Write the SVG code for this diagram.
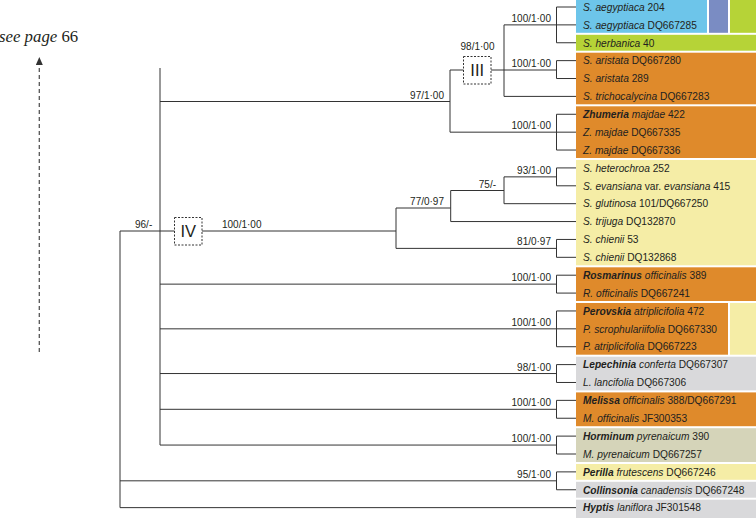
<svg xmlns="http://www.w3.org/2000/svg" width="756" height="518" viewBox="0 0 756 518">
<style>
.t{font-family:"Liberation Sans",Arial,sans-serif;font-size:10.2px;fill:#231f20}
.i{font-style:italic}
.b{font-weight:bold;font-style:italic}
.bl{font-family:"Liberation Sans",Arial,sans-serif;font-size:10px;fill:#231f20}
.ln{stroke:#333;stroke-width:1;fill:none}
.box{fill:#fff;stroke:#333;stroke-width:1;stroke-dasharray:2,1.5}
.rn{font-family:"Liberation Sans",Arial,sans-serif;font-size:16.5px;fill:#231f20;text-anchor:middle}
.blue{fill:#6dc5ea}.pur{fill:#7a8cc3}.grn{fill:#b6d337}.org{fill:#df8a2b}.yel{fill:#f5eda6}.gry{fill:#d9d9db}.kha{fill:#d5d4b9}
</style>
<defs>
<marker id="ah" viewBox="0 0 8 7" refX="7" refY="3.5" markerWidth="8" markerHeight="7" markerUnits="userSpaceOnUse" orient="auto">
<path d="M0,0 L8,3.5 L0,7 Z" fill="#333"/>
</marker>
</defs>

<g id="bands">
<rect class="blue" x="576" y="-2" width="131" height="34.8"/>
<rect class="pur" x="709" y="-2" width="19" height="34.8"/>
<rect class="grn" x="730" y="-2" width="26" height="34.8"/>
<rect class="grn" x="576" y="34.8" width="180" height="15.9"/>
<rect class="org" x="576" y="52.7" width="180" height="51.6"/>
<rect class="org" x="576" y="106.3" width="180" height="51.7"/>
<rect class="yel" x="576" y="160" width="180" height="105.3"/>
<rect class="org" x="576" y="267.3" width="180" height="33.7"/>
<rect class="org" x="576" y="303" width="152" height="51.7"/>
<rect class="yel" x="730" y="303" width="26" height="51.7"/>
<rect class="gry" x="576" y="356.7" width="180" height="33.7"/>
<rect class="org" x="576" y="392.4" width="180" height="33.8"/>
<rect class="kha" x="576" y="428.2" width="180" height="33.8"/>
<rect class="yel" x="576" y="464" width="180" height="15.8"/>
<rect class="gry" x="576" y="481.8" width="180" height="15.9"/>
<rect class="gry" x="576" y="499.7" width="180" height="18.3"/>
</g>

<g id="connectors">
<path class="ln" d="M120,231 V507.64 M120,231 H396"/>
<path class="ln" d="M160,68 V445.06"/>
<path class="ln" d="M160,101.5 H450 M450,70 V132.16 M450,70 H556.5 M556.5,60.64 V78.52 M556.5,60.64 H576 M556.5,78.52 H576"/>
<path class="ln" d="M504,24.88 V96.4 M504,24.88 H576 M556.5,7 V42.76 M556.5,7 H576 M556.5,42.76 H576 M504,96.4 H576"/>
<path class="ln" d="M450,132.16 H576 M556.5,114.28 V150.04 M556.5,114.28 H576 M556.5,150.04 H576"/>
<path class="ln" d="M396,208 V248.38 M396,208 H450.7 M450.7,190.5 V221.56 M450.7,190.5 H504 M504,176.86 V203.68 M504,176.86 H556.5 M556.5,167.92 V185.8 M556.5,167.92 H576 M556.5,185.8 H576 M504,203.68 H576 M450.7,221.56 H576"/>
<path class="ln" d="M396,248.38 H556.5 M556.5,239.44 V257.32 M556.5,239.44 H576 M556.5,257.32 H576"/>
<path class="ln" d="M160,284.14 H556.5 M556.5,275.2 V293.08 M556.5,275.2 H576 M556.5,293.08 H576"/>
<path class="ln" d="M160,328.84 H576 M556.5,310.96 V346.72 M556.5,310.96 H576 M556.5,346.72 H576"/>
<path class="ln" d="M160,373.54 H556.5 M556.5,364.6 V382.48 M556.5,364.6 H576 M556.5,382.48 H576"/>
<path class="ln" d="M160,409.3 H556.5 M556.5,400.36 V418.24 M556.5,400.36 H576 M556.5,418.24 H576"/>
<path class="ln" d="M160,445.06 H556.5 M556.5,436.12 V454 M556.5,436.12 H576 M556.5,454 H576"/>
<path class="ln" d="M120,480.82 H556.5 M556.5,471.88 V489.76 M556.5,471.88 H576 M556.5,489.76 H576"/>
<path class="ln" d="M120,507.64 H576"/>
<path d="M39.3,352 V58" stroke="#555" stroke-width="1.3" stroke-dasharray="4,3" fill="none" marker-end="url(#ah)"/>
</g>

<g id="branch-labels" class="bl">
<text x="551" y="21.9" text-anchor="end">100/1·00</text>
<text x="551" y="67" text-anchor="end">100/1·00</text>
<text x="477.5" y="50.3" text-anchor="middle">98/1·00</text>
<text x="444" y="98.5" text-anchor="end">97/1·00</text>
<text x="551" y="129.2" text-anchor="end">100/1·00</text>
<text x="551" y="173.9" text-anchor="end">93/1·00</text>
<text x="496" y="187.5" text-anchor="end">75/-</text>
<text x="444" y="205" text-anchor="end">77/0·97</text>
<text x="551" y="245.4" text-anchor="end">81/0·97</text>
<text x="135" y="228">96/-</text>
<text x="222" y="228">100/1·00</text>
<text x="551" y="281.1" text-anchor="end">100/1·00</text>
<text x="551" y="325.8" text-anchor="end">100/1·00</text>
<text x="551" y="370.5" text-anchor="end">98/1·00</text>
<text x="551" y="406.3" text-anchor="end">100/1·00</text>
<text x="551" y="442" text-anchor="end">100/1·00</text>
<text x="551" y="477.8" text-anchor="end">95/1·00</text>
</g>

<g id="clade-III">
<rect class="box" x="463.5" y="56.5" width="27.5" height="27.5"/>
<text class="rn" x="477.2" y="76.3">III</text>
</g>
<g id="clade-IV">
<rect class="box" x="174.5" y="217.5" width="27.5" height="27.5"/>
<text class="rn" x="188.2" y="237.3">IV</text>
</g>

<g id="see-page">
<text x="-1" y="42" font-family="'Liberation Serif','Times New Roman',serif" font-size="16.8" fill="#231f20"><tspan font-style="italic">see page</tspan> 66</text>
</g>

<g id="taxa" class="t">
<text id="t1" x="583" y="10.7"><tspan class="i">S. aegyptiaca</tspan> 204</text>
<text id="t2" x="583" y="28.6"><tspan class="i">S. aegyptiaca</tspan> DQ667285</text>
<text id="t3" x="583" y="46.5"><tspan class="i">S. herbanica</tspan> 40</text>
<text id="t4" x="583" y="64.3"><tspan class="i">S. aristata</tspan> DQ667280</text>
<text id="t5" x="583" y="82.2"><tspan class="i">S. aristata</tspan> 289</text>
<text id="t6" x="583" y="100.1"><tspan class="i">S. trichocalycina</tspan> DQ667283</text>
<text id="t7" x="583" y="118"><tspan class="b">Zhumeria</tspan> <tspan class="i">majdae</tspan> 422</text>
<text id="t8" x="583" y="135.9"><tspan class="i">Z. majdae</tspan> DQ667335</text>
<text id="t9" x="583" y="153.7"><tspan class="i">Z. majdae</tspan> DQ667336</text>
<text id="t10" x="583" y="171.6"><tspan class="i">S. heterochroa</tspan> 252</text>
<text id="t11" x="583" y="189.5"><tspan class="i">S. evansiana</tspan> var. <tspan class="i">evansiana</tspan> 415</text>
<text id="t12" x="583" y="207.4"><tspan class="i">S. glutinosa</tspan> 101/DQ667250</text>
<text id="t13" x="583" y="225.3"><tspan class="i">S. trijuga</tspan> DQ132870</text>
<text id="t14" x="583" y="243.1"><tspan class="i">S. chienii</tspan> 53</text>
<text id="t15" x="583" y="261"><tspan class="i">S. chienii</tspan> DQ132868</text>
<text id="t16" x="583" y="278.9"><tspan class="b">Rosmarinus</tspan> <tspan class="i">officinalis</tspan> 389</text>
<text id="t17" x="583" y="296.8"><tspan class="i">R. officinalis</tspan> DQ667241</text>
<text id="t18" x="583" y="314.7"><tspan class="b">Perovskia</tspan> <tspan class="i">atriplicifolia</tspan> 472</text>
<text id="t19" x="583" y="332.5"><tspan class="i">P. scrophulariifolia</tspan> DQ667330</text>
<text id="t20" x="583" y="350.4"><tspan class="i">P. atriplicifolia</tspan> DQ667223</text>
<text id="t21" x="583" y="368.3"><tspan class="b">Lepechinia</tspan> <tspan class="i">conferta</tspan> DQ667307</text>
<text id="t22" x="583" y="386.2"><tspan class="i">L. lancifolia</tspan> DQ667306</text>
<text id="t23" x="583" y="404.1"><tspan class="b">Melissa</tspan> <tspan class="i">officinalis</tspan> 388/DQ667291</text>
<text id="t24" x="583" y="421.9"><tspan class="i">M. officinalis</tspan> JF300353</text>
<text id="t25" x="583" y="439.8"><tspan class="b">Horminum</tspan> <tspan class="i">pyrenaicum</tspan> 390</text>
<text id="t26" x="583" y="457.7"><tspan class="i">M. pyrenaicum</tspan> DQ667257</text>
<text id="t27" x="583" y="475.6"><tspan class="b">Perilla</tspan> <tspan class="i">frutescens</tspan> DQ667246</text>
<text id="t28" x="583" y="493.5"><tspan class="b">Collinsonia</tspan> <tspan class="i">canadensis</tspan> DQ667248</text>
<text id="t29" x="583" y="511.3"><tspan class="b">Hyptis</tspan> <tspan class="i">laniflora</tspan> JF301548</text>
</g>
</svg>
